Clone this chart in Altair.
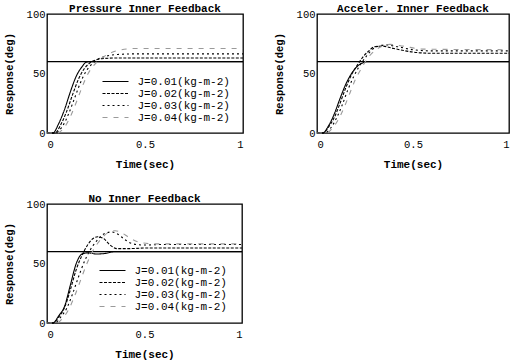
import altair as alt
import pandas as pd

series = ["J=0.01(kg-m-2)", "J=0.02(kg-m-2)", "J=0.03(kg-m-2)", "J=0.04(kg-m-2)"]
command_value = [60]

# ---- Pressure Inner Feedback ----
p1_t1 = [0, 0.03, 0.06, 0.09, 0.12, 0.15, 0.18, 0.20, 0.22, 1.0]
p1_v1 = [0, 0, 8, 20, 35, 48, 56, 59.5, 60, 60]
p1_t2 = [0, 0.04, 0.07, 0.10, 0.13, 0.16, 0.19, 0.22, 0.25, 0.28, 0.35, 1.0]
p1_v2 = [0, 0, 7, 18, 32, 45, 54, 59, 61.5, 62.5, 63, 63]
p1_t3 = [0, 0.04, 0.08, 0.11, 0.14, 0.17, 0.20, 0.23, 0.26, 0.30, 0.36, 0.45, 1.0]
p1_v3 = [0, 0, 6, 16, 29, 42, 52, 58, 62, 64.5, 66, 66.5, 66.5]
p1_t4 = [0, 0.05, 0.09, 0.12, 0.15, 0.18, 0.21, 0.24, 0.28, 0.32, 0.38, 0.45, 1.0]
p1_v4 = [0, 0, 5, 14, 26, 39, 50, 57, 63, 67, 70, 71, 71]

# ---- Acceler. Inner Feedback ----
p2_t1 = [0, 0.03, 0.06, 0.09, 0.12, 0.15, 0.18, 0.21, 0.24, 0.27, 1.0]
p2_v1 = [0, 0, 6, 16, 29, 41, 50, 56, 59, 60, 60]
p2_t2 = [0, 0.03, 0.06, 0.09, 0.12, 0.15, 0.18, 0.21, 0.24, 0.27, 0.30, 0.34, 0.40, 0.50, 0.60, 1.0]
p2_v2 = [0, 0, 5, 13, 25, 38, 49, 57, 64, 69, 72.5, 73, 71, 68, 67, 67]
p2_t3 = [0, 0.04, 0.07, 0.10, 0.13, 0.16, 0.19, 0.22, 0.25, 0.28, 0.32, 0.36, 0.42, 0.50, 0.60, 1.0]
p2_v3 = [0, 0, 4, 12, 23, 36, 47, 56, 63, 69, 73, 74, 72.5, 70, 69, 69]
p2_t4 = [0, 0.05, 0.08, 0.11, 0.14, 0.17, 0.20, 0.23, 0.26, 0.30, 0.34, 0.38, 0.45, 0.55, 1.0]
p2_v4 = [0, 0, 4, 11, 21, 33, 45, 54, 62, 69, 73, 74.5, 73, 70.5, 70]

# ---- No Inner Feedback ----
p3_t1 = [0, 0.03, 0.06, 0.09, 0.12, 0.15, 0.18, 0.21, 0.25, 0.30, 0.35, 1.0]
p3_v1 = [0, 0, 6, 14, 32, 50, 58, 59, 58, 58.5, 60, 60]
p3_t2 = [0, 0.03, 0.06, 0.09, 0.12, 0.15, 0.18, 0.21, 0.24, 0.26, 0.29, 0.32, 0.36, 0.42, 0.50, 1.0]
p3_v2 = [0, 0, 5, 13, 28, 45, 57, 66, 71.5, 72.5, 71, 66, 62.5, 62.5, 63, 63]
p3_t3 = [0, 0.04, 0.07, 0.10, 0.13, 0.16, 0.19, 0.22, 0.25, 0.28, 0.31, 0.33, 0.36, 0.40, 0.44, 0.50, 0.60, 1.0]
p3_v3 = [0, 0, 5, 12, 24, 38, 51, 61, 68, 73.5, 76, 76.5, 75, 70, 66.5, 65.5, 66, 66]
p3_t4 = [0, 0.05, 0.08, 0.11, 0.14, 0.17, 0.20, 0.23, 0.26, 0.29, 0.32, 0.35, 0.38, 0.42, 0.47, 0.55, 1.0]
p3_v4 = [0, 0, 4, 11, 22, 35, 48, 59, 67, 73, 76.5, 77.5, 76, 72, 68, 66.5, 66.5]

titles = ["Pressure Inner Feedback", "Acceler. Inner Feedback", "No Inner Feedback"]

FONT = "Liberation Mono"


def frame(ts, vs):
    rows = []
    for name, t, v in zip(series, ts, vs):
        for a, b in zip(t, v):
            rows.append({"t": a, "v": b, "J": name})
    return pd.DataFrame(rows)


def panel(df, title, width, lx, ly):
    leg = alt.Legend(
        title=None, orient="none", legendX=lx, legendY=ly,
        symbolType="M-4,0H4", symbolSize=42.25, symbolStrokeWidth=1.1,
        labelFont=FONT, labelFontSize=11, labelColor="black",
        labelOffset=16.5, rowPadding=0, padding=0,
    )
    x = alt.X("t:Q", scale=alt.Scale(domain=[0, 1], nice=False),
              axis=alt.Axis(values=[0, 0.5, 1], format="~g", title="Time(sec)",
                            labelFont=FONT, labelFontSize=10.5, labelPadding=6,
                            titleFont=FONT, titleFontSize=11, titleFontWeight="bold",
                            titlePadding=9))
    y = alt.Y("v:Q", scale=alt.Scale(domain=[0, 100], nice=False),
              axis=alt.Axis(values=[0, 50, 100], title="Response(deg)",
                            labelFont=FONT, labelFontSize=10.5, labelPadding=2,
                            titleFont=FONT, titleFontSize=10.5, titleFontWeight="bold",
                            titlePadding=12))
    lines = alt.Chart(df).mark_line(strokeWidth=1.1, interpolate="monotone").encode(
        x=x, y=y,
        strokeDash=alt.StrokeDash("J:N", scale=alt.Scale(
            domain=series, range=[[1, 0], [3, 1.5], [2, 3], [5, 6]]), legend=leg),
        color=alt.Color("J:N", scale=alt.Scale(
            domain=series, range=["black", "black", "black", "#9a9a9a"]), legend=leg),
    )
    ref = alt.Chart(pd.DataFrame({"v": command_value})).mark_rule(
        color="black", strokeWidth=1.3).encode(y="v:Q")
    return alt.layer(ref, lines).properties(
        width=width, height=119,
        title=alt.TitleParams(title, font=FONT, fontSize=11, fontWeight="bold",
                              offset=-5, color="black"),
    ).resolve_scale(color="shared", strokeDash="shared")


d1 = frame([p1_t1, p1_t2, p1_t3, p1_t4], [p1_v1, p1_v2, p1_v3, p1_v4])
d2 = frame([p2_t1, p2_t2, p2_t3, p2_t4], [p2_v1, p2_v2, p2_v3, p2_v4])
d3 = frame([p3_t1, p3_t2, p3_t3, p3_t4], [p3_v1, p3_v2, p3_v3, p3_v4])

c1 = panel(d1, titles[0], 196, 63, 62)
c2 = panel(d2, titles[1], 192, 60, 63)
c3 = panel(d3, titles[2], 195, 60, 61)

top = alt.hconcat(c1, c2, spacing=27)
chart = alt.vconcat(top, c3, spacing=21).resolve_scale(
    color="independent", strokeDash="independent"
).resolve_legend(color="independent", strokeDash="independent").properties(
    padding={"left": 3, "top": 2, "right": 0, "bottom": 0},
    background="white",
).configure_view(
    stroke="black", strokeWidth=1.3
).configure_axis(
    grid=False, domain=False, ticks=False,
    labelColor="black", titleColor="black",
)

chart.save("out.html", embed_options={"renderer": "svg", "actions": False})
